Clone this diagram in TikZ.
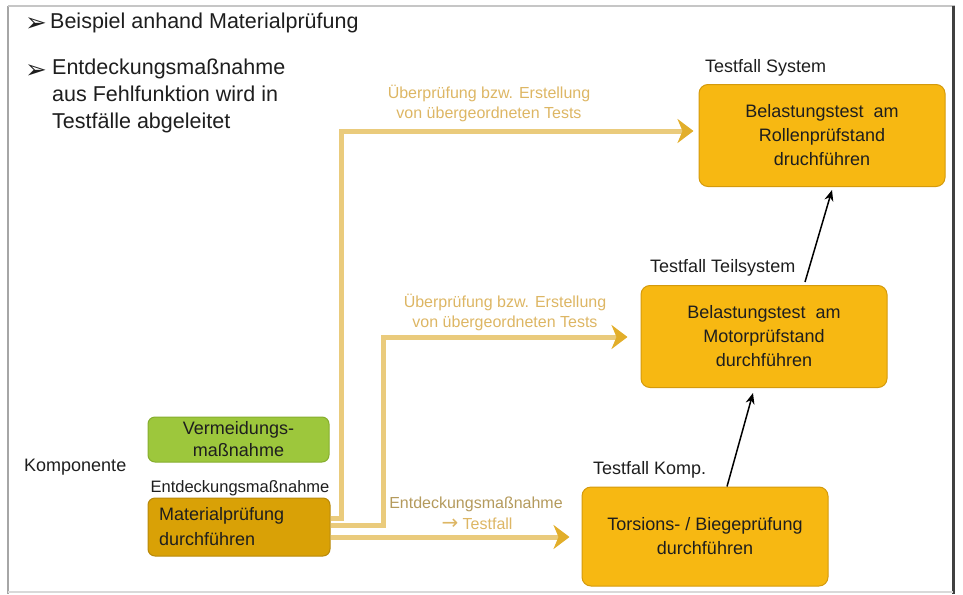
\documentclass[tikz,border=0pt]{standalone}
\usepackage{fontspec}
\setmainfont{Liberation Sans}
\newfontfamily\symfont{DejaVu Sans}
\usetikzlibrary{arrows.meta}

\definecolor{amber}{HTML}{F7B812}
\definecolor{amberline}{HTML}{D49A0C}
\definecolor{darkgold}{HTML}{D9A106}
\definecolor{darkgoldline}{HTML}{B8890A}
\definecolor{leafgreen}{HTML}{9DC73C}
\definecolor{leafline}{HTML}{86AE2E}
\definecolor{wiregold}{HTML}{EACB7C}
\definecolor{tipgold}{HTML}{E2AE2A}
\definecolor{labelgold}{HTML}{DDB664}
\definecolor{labelolive}{HTML}{B49A5C}
\definecolor{txt}{HTML}{1E1E1E}

\tikzset{
  box/.style={draw=amberline, line width=1pt, fill=amber, rounded corners=9pt,
    minimum width=246pt, minimum height=102pt, inner sep=0pt, align=center,
    text=txt, font=\fontsize{18}{24}\selectfont},
  tag/.style={anchor=west, inner sep=0pt, text=txt, font=\fontsize{18}{20}\selectfont},
  goldnote/.style={inner sep=0pt, align=center, text=labelgold, font=\fontsize{16}{20}\selectfont},
  wire/.style={draw=wiregold, line width=5pt,
    -{Stealth[length=16pt, width=24pt, inset=5pt, color=tipgold]}},
  blk/.style={draw=black, line width=1.5pt, -{Stealth[length=11pt, width=9pt]}},
  headline/.style={anchor=north west, inner sep=0pt, align=left, text=txt,
    font=\fontsize{21.5}{27}\selectfont},
  bullet/.style={inner sep=0pt, text=txt, font=\symfont\fontsize{26}{28}\selectfont},
}

\begin{document}
\begin{tikzpicture}[x=1pt, y=-1pt]
\useasboundingbox (0,0) rectangle (963,594);

% frame
\draw[draw=gray!70, line width=2pt] (8,6) -- (8,594);
\draw[draw=gray!45, line width=2pt] (8,6) -- (955,6);
\draw[draw=black!75, line width=3pt] (953,6) -- (953,594);
\draw[draw=gray!30, line width=1.5pt] (8,592) -- (953,592);

% heading bullets
\node[bullet] (m1) at (36,25) {➢};
\node[bullet] (m2) at (36,72) {➢};
\node[headline] (b1) at (50,13) {Beispiel anhand Materialprüfung};
\node[headline] (b2) at (52,59) {Entdeckungsmaßnahme\\aus Fehlfunktion wird in\\Testfälle abgeleitet};

% component side
\node[tag] (komp) at (24,467) {Komponente};
\node[draw=leafline, line width=1pt, fill=leafgreen, rounded corners=7pt,
  minimum width=181pt, minimum height=45pt, inner sep=0pt, align=center,
  text=txt, font=\fontsize{18}{22}\selectfont] (verm) at (238.5,439.5)
  {Vermeidungs-\\maßnahme};
\node[inner sep=0pt, text=txt, font=\fontsize{16.5}{20}\selectfont] (entd) at (240,488) {Entdeckungsmaßnahme};
\node[draw=darkgoldline, line width=1pt, fill=darkgold, rounded corners=7pt,
  minimum width=182pt, minimum height=58pt, inner sep=0pt] (mat) at (239,527) {};
\node[anchor=west, inner sep=0pt, align=left, text=txt,
  font=\fontsize{18}{25}\selectfont] (mattext) at (159,527) {Materialprüfung\\durchführen};

% test cases
\node[box] (sys) at (822,135.5) {Belastungstest\ \ am\\Rollenprüfstand\\druchführen};
\node[box] (mot) at (764,336.5) {Belastungstest\ \ am\\Motorprüfstand\\durchführen};
\node[box, minimum height=99pt] (tor) at (705,536.5) {Torsions- / Biegeprüfung\\durchführen};

\node[tag] (tsys) at (705,68) {Testfall System};
\node[tag] (tmot) at (650,268) {Testfall Teilsystem};
\node[tag] (ttor) at (593,470) {Testfall Komp.};

% derivation wires
\draw[wire] ([yshift=9pt]mat.east) -| (341,131) -- ([xshift=-5pt,yshift=4.5pt]sys.west);
\draw[wire] ([yshift=2pt]mat.east) -| (383,337) -- ([xshift=-13pt,yshift=-0.5pt]mot.west);
\draw[wire] ([yshift=-10pt]mat.east) -- ([xshift=-12pt,yshift=-0.5pt]tor.west);

\node[goldnote] (n1) at (489,103) {Überprüfung bzw. Erstellung\\von übergeordneten Tests};
\node[goldnote] (n2) at (505,312) {Überprüfung bzw. Erstellung\\von übergeordneten Tests};
\node[goldnote, text=labelolive] (n3) at (476,504) {Entdeckungsmaßnahme};
\node[goldnote] (n4) at (477,524) {{\symfont\fontsize{20}{20}\selectfont →} Testfall};

% escalation arrows
\draw[blk] ([xshift=22pt]tor.north) -- ([xshift=-11pt,yshift=-5pt]mot.south);
\draw[blk] ([xshift=41pt,yshift=3pt]mot.north) -- ([xshift=10pt,yshift=-3pt]sys.south);
\end{tikzpicture}
\end{document}
